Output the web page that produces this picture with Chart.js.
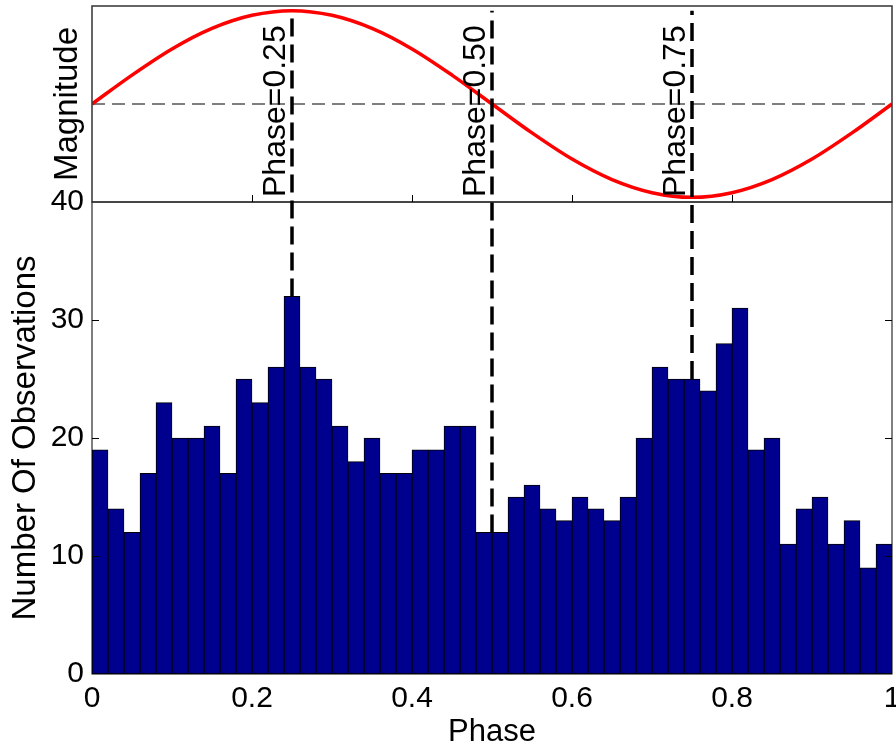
<!DOCTYPE html>
<html>
<head>
<meta charset="utf-8">
<style>
  html, body { margin: 0; padding: 0; background: #fff; }
  #wrap { width: 896px; height: 749px; }
</style>
</head>
<body>
<div id="wrap"><canvas id="phaseChart" width="896" height="749"></canvas></div>
<script src="https://cdn.jsdelivr.net/npm/chart.js@4/dist/chart.umd.min.js"></script>
<script>
// histogram of observations per phase bin (bin width 0.02)
const binWidth = 0.02;
const counts = [19, 14, 12, 17, 23, 20, 20, 21, 17, 25,
                23, 26, 32, 26, 25, 21, 18, 20, 17, 17,
                19, 19, 21, 21, 12, 12, 15, 16, 14, 13,
                15, 14, 13, 15, 20, 26, 25, 25, 24, 28,
                31, 19, 20, 11, 14, 15, 11, 13, 9, 11];

// light curve (relative magnitude)
const curvePhase = [0, 0.05, 0.1, 0.15, 0.2, 0.25, 0.3, 0.35, 0.4, 0.45, 0.5,
                    0.55, 0.6, 0.65, 0.7, 0.75, 0.8, 0.85, 0.9, 0.95, 1];
const curveMag = [0, 0.31, 0.59, 0.81, 0.95, 1, 0.95, 0.81, 0.59, 0.31, 0,
                  -0.31, -0.59, -0.81, -0.95, -1, -0.95, -0.81, -0.59, -0.31, 0];
const meanMag = 0;

// marked phases
const markerPhases = [0.25, 0.5, 0.75];
const markerLabels = ['Phase=0.25', 'Phase=0.50', 'Phase=0.75'];

const phaseTicks = [0, 0.2, 0.4, 0.6, 0.8, 1];
const countTicks = [0, 10, 20, 30, 40];

const FONT = '"Liberation Sans", Arial, Helvetica, sans-serif';

const binCenters = counts.map((_, i) => (i + 0.5) * binWidth);

// no extra room for overhanging tick labels
const noPad = s => { s.paddingLeft = 0; s.paddingRight = 0; s.paddingTop = 0; s.paddingBottom = 0; };

// frames, inner ticks and the phase markers
const panelPlugin = {
  id: 'panelPlugin',
  afterDatasetsDraw(chart) {
    const { ctx, scales: { x, y, yMag } } = chart;
    ctx.save();

    // panel frames
    ctx.strokeStyle = '#000';
    ctx.lineWidth = 1;
    ctx.strokeRect(x.left, y.top, x.right - x.left, y.bottom - y.top);
    ctx.strokeStyle = '#333';
    ctx.lineWidth = 1.5;
    ctx.strokeRect(x.left, yMag.top, x.right - x.left, yMag.bottom - yMag.top);

    // inward tick marks
    ctx.strokeStyle = '#000';
    ctx.lineWidth = 1;
    ctx.beginPath();
    countTicks.slice(1, -1).forEach(v => {
      const py = Math.round(y.getPixelForValue(v)) + 0.5;
      ctx.moveTo(x.left, py); ctx.lineTo(x.left + 7, py);
      ctx.moveTo(x.right, py); ctx.lineTo(x.right - 7, py);
    });
    phaseTicks.slice(1, -1).forEach(v => {
      const px = Math.round(x.getPixelForValue(v)) + 0.5;
      ctx.moveTo(px, yMag.bottom); ctx.lineTo(px, yMag.bottom - 7);
    });
    ctx.stroke();

    // vertical phase markers
    markerPhases.forEach((p, i) => {
      const px = x.getPixelForValue(p);
      const bin = Math.min(Math.floor(p / binWidth + 1e-9), counts.length - 1);
      const top = yMag.getPixelForValue(Math.max(...curveMag));
      const bottom = y.getPixelForValue(counts[bin]);
      ctx.strokeStyle = '#000';
      ctx.lineWidth = 3.5;
      ctx.setLineDash([18, 8]);
      ctx.beginPath();
      ctx.moveTo(px, bottom);
      ctx.lineTo(px, top);
      ctx.stroke();
      ctx.setLineDash([]);

      ctx.save();
      ctx.translate(px - 7, yMag.bottom - 5);
      ctx.rotate(-Math.PI / 2);
      ctx.fillStyle = '#000';
      ctx.font = '32px ' + FONT;
      ctx.textAlign = 'left';
      ctx.textBaseline = 'alphabetic';
      ctx.fillText(markerLabels[i], 0, 0);
      ctx.restore();
    });

    ctx.restore();
  }
};

const ctx = document.getElementById('phaseChart').getContext('2d');
new Chart(ctx, {
  type: 'bar',
  data: {
    datasets: [
      {
        type: 'line',
        data: curvePhase.map((p, i) => ({ x: p, y: curveMag[i] })),
        yAxisID: 'yMag',
        borderColor: '#ff0000',
        borderWidth: 3.5,
        pointRadius: 0,
        cubicInterpolationMode: 'monotone',
        order: 0
      },
      {
        type: 'line',
        data: [{ x: 0, y: meanMag }, { x: 1, y: meanMag }],
        yAxisID: 'yMag',
        borderColor: '#555',
        borderWidth: 1.5,
        borderDash: [13, 7],
        pointRadius: 0,
        order: 1
      },
      {
        type: 'bar',
        data: binCenters.map((c, i) => ({ x: c, y: counts[i] })),
        yAxisID: 'y',
        backgroundColor: '#00008f',
        borderColor: '#000',
        borderWidth: 1,
        borderSkipped: false,
        barPercentage: 1,
        categoryPercentage: 1,
        order: 2
      }
    ]
  },
  options: {
    responsive: false,
    animation: false,
    layout: { padding: { top: 6, right: 4, left: 0, bottom: 0 } },
    plugins: {
      legend: { display: false },
      tooltip: { enabled: false }
    },
    scales: {
      x: {
        type: 'linear',
        min: 0,
        max: 1,
        offset: false,
        grid: { display: false, drawTicks: false },
        border: { display: false },
        afterBuildTicks: s => { s.ticks = phaseTicks.map(v => ({ value: v })); },
        afterFit: s => { s.height = 75; noPad(s); },
        ticks: {
          color: '#000', padding: 7, maxRotation: 0,
          font: { family: FONT, size: 30 },
          callback: v => String(+v.toFixed(2))
        },
        title: { display: true, text: 'Phase', color: '#000', padding: { top: 0, bottom: -2 }, font: { family: FONT, size: 31 } }
      },
      y: {
        type: 'linear',
        position: 'left',
        stack: 'panels',
        stackWeight: 472,
        min: 0,
        max: 40,
        grid: { display: false, drawTicks: false },
        border: { display: false },
        afterBuildTicks: s => { s.ticks = countTicks.map(v => ({ value: v })); },
        afterFit: s => { s.width = 92; noPad(s); },
        ticks: { color: '#000', padding: 8, font: { family: FONT, size: 30 }, callback: v => String(v) },
        title: { display: true, text: 'Number Of Observations', color: '#000', padding: { top: 6, bottom: 0 }, font: { family: FONT, size: 33 } }
      },
      yMag: {
        type: 'linear',
        position: 'left',
        stack: 'panels',
        stackWeight: 196,
        min: -1.05,
        max: 1.05,
        grid: { display: false, drawTicks: false },
        border: { display: false },
        afterFit: s => { s.width = 92; noPad(s); },
        ticks: { display: false },
        title: { display: true, text: 'Magnitude', color: '#000', padding: { top: 48, bottom: 0 }, font: { family: FONT, size: 33 } }
      }
    }
  },
  plugins: [panelPlugin]
});
</script>
</body>
</html>
